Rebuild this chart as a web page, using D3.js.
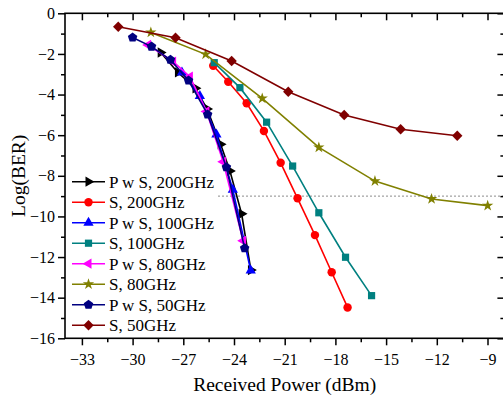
<!DOCTYPE html>
<html><head><meta charset="utf-8">
<script src="https://cdn.jsdelivr.net/npm/d3@7"></script>
<style>body{margin:0;background:#fff}svg{display:block}
svg text{font-family:"Liberation Serif","Times New Roman",Times,"DejaVu Serif",serif !important;fill:#000}</style>
</head><body>
<svg id="c" width="503" height="399"></svg>
<script>
// ---- data ----
const seriesNames = ["P w S, 200GHz","S, 200GHz","P w S, 100GHz","S, 100GHz","P w S, 80GHz","S, 80GHz","P w S, 50GHz","S, 50GHz"];
const pws200X = [-28.34,-27.32,-26.28,-25.59,-24.79,-24.24,-23.55,-23.0];
const pws200Y = [-1.93,-2.91,-3.69,-4.71,-6.45,-7.76,-9.87,-12.64];
const s200X = [-25.23,-24.34,-23.25,-22.23,-21.24,-20.24,-19.21,-18.22,-17.28];
const s200Y = [-2.58,-3.37,-4.43,-5.79,-7.36,-9.11,-10.92,-12.75,-14.48];
const pws100X = [-27.08,-26.02,-25.04,-24.07,-23.01];
const pws100Y = [-2.91,-4.07,-5.97,-8.69,-12.66];
const s100X = [-25.17,-23.65,-22.07,-20.53,-18.98,-17.40,-15.86];
const s100Y = [-2.43,-3.66,-5.36,-7.52,-9.82,-12.01,-13.90];
const pws80X = [-29.08,-27.60,-26.61,-25.63,-24.64,-23.46];
const pws80Y = [-1.56,-2.38,-3.12,-4.83,-7.31,-11.20];
const s80X = [-28.92,-25.68,-22.33,-18.98,-15.66,-12.31,-8.99];
const s80Y = [-0.94,-2.02,-4.19,-6.60,-8.26,-9.14,-9.47];
const pws50X = [-30.0,-28.88,-27.76,-26.69,-25.56,-24.45,-23.37];
const pws50Y = [-1.19,-1.64,-2.29,-3.31,-4.98,-7.58,-11.57];
const s50X = [-30.85,-27.46,-24.14,-20.79,-17.48,-14.14,-10.79];
const s50Y = [-0.66,-1.20,-2.35,-3.86,-5.01,-5.71,-6.03];
const xTicks = [-33,-30,-27,-24,-21,-18,-15,-12,-9];
const yTicks = [0,-2,-4,-6,-8,-10,-12,-14,-16];
const thresholdY = -9;

const colors = ["#000000","#ff0000","#0000ff","#008080","#ff00ff","#808000","#000080","#800000"];
const shapes = ["tri-right","circle","tri-up","square","tri-left","star","pentagon","diamond"];
const xs = [pws200X,s200X,pws100X,s100X,pws80X,s80X,pws50X,s50X];
const ys = [pws200Y,s200Y,pws100Y,s100Y,pws80Y,s80Y,pws50Y,s50Y];

// ---- layout ----
const L = 65, R = 504.4, T = 13.3, B = 338.3;
const FONT = "'Liberation Serif','Times New Roman',Times,'DejaVu Serif',serif";
const svg = d3.select("#c");
const x = d3.scaleLinear().domain([-34,-8]).range([L,R]);
const y = d3.scaleLinear().domain([-16,0]).range([B,T]);

function markerPath(shape){
  if(shape==="circle") return d3.symbol(d3.symbolCircle,56)();
  if(shape==="square") return d3.symbol(d3.symbolSquare,52)();
  if(shape==="diamond") return "M0,-5.2L5.2,0L0,5.2L-5.2,0Z";
  if(shape==="star") return d3.symbol(d3.symbolStar,40)();
  if(shape.startsWith("tri")) return d3.symbol(d3.symbolTriangle,46)();
  if(shape==="pentagon"){
    const r=5, pts=[];
    for(let i=0;i<5;i++){const a=-Math.PI/2+i*2*Math.PI/5;pts.push([r*Math.cos(a),r*Math.sin(a)]);}
    return "M"+pts.map(p=>p.join(",")).join("L")+"Z";
  }
}
function markerRot(shape){ return shape==="tri-right"?90:shape==="tri-left"?-90:0; }

// threshold dotted line
svg.append("line").attr("x1",218).attr("x2",R).attr("y1",y(thresholdY)).attr("y2",y(thresholdY))
  .attr("stroke","#8c8c8c").attr("stroke-width",1).attr("stroke-dasharray","2,2");

// axes
const minorXs = d3.range(-31.5,-8,3);
const minorYs = d3.range(-15,0,2);
const gB = svg.append("g").attr("transform",`translate(0,${B})`)
  .call(d3.axisBottom(x).tickValues(xTicks).tickSize(7).tickPadding(5).tickFormat(d3.format("d")));
const gBm = svg.append("g").attr("transform",`translate(0,${B})`)
  .call(d3.axisBottom(x).tickValues(minorXs).tickSize(4).tickFormat(""));
const gT = svg.append("g").attr("transform",`translate(0,${T})`)
  .call(d3.axisBottom(x).tickValues(xTicks).tickSize(7).tickFormat(""));
const gTm = svg.append("g").attr("transform",`translate(0,${T})`)
  .call(d3.axisBottom(x).tickValues(minorXs).tickSize(4).tickFormat(""));
const gL = svg.append("g").attr("transform",`translate(${L},0)`)
  .call(d3.axisLeft(y).tickValues(yTicks).tickSize(7).tickPadding(3).tickFormat(d3.format("d")));
const gLm = svg.append("g").attr("transform",`translate(${L},0)`)
  .call(d3.axisLeft(y).tickValues(minorYs).tickSize(4).tickFormat(""));
const gR = svg.append("g").attr("transform",`translate(${R},0)`)
  .call(d3.axisLeft(y).tickValues(yTicks).tickSize(7).tickFormat(""));
const gRm = svg.append("g").attr("transform",`translate(${R},0)`)
  .call(d3.axisLeft(y).tickValues(minorYs).tickSize(4).tickFormat(""));
[gB,gBm,gT,gTm,gL,gLm,gR,gRm].forEach(g=>{
  g.attr("font-family",FONT);
  g.selectAll(".domain").remove();
  g.selectAll(".tick line").attr("stroke","#000").attr("stroke-width",1.5);
  g.selectAll("text").attr("font-size",16).style("font-family",FONT);
});
gB.selectAll("text").attr("dy","0.95em");
// frame
svg.append("rect").attr("x",L).attr("y",T).attr("width",R-L).attr("height",B-T)
  .attr("fill","none").attr("stroke","#000").attr("stroke-width",1.6);

// series
const line = d3.line().x(d=>x(d[0])).y(d=>y(d[1]));
seriesNames.forEach((name,i)=>{
  const pts = xs[i].map((v,j)=>[v,ys[i][j]]);
  const g = svg.append("g");
  g.append("path").attr("d",line(pts)).attr("fill","none").attr("stroke",colors[i]).attr("stroke-width",1.6);
  g.selectAll("path.m").data(pts).join("path").attr("class","m")
    .attr("d",markerPath(shapes[i]))
    .attr("transform",d=>`translate(${x(d[0])},${y(d[1])}) rotate(${markerRot(shapes[i])})`)
    .attr("fill",colors[i]);
});

// legend
const lg = svg.append("g");
seriesNames.forEach((name,i)=>{
  const yy = 181.7 + i*20.5;
  lg.append("line").attr("x1",72).attr("x2",105).attr("y1",yy).attr("y2",yy)
    .attr("stroke",colors[i]).attr("stroke-width",1.6);
  lg.append("path").attr("d",markerPath(shapes[i]))
    .attr("transform",`translate(88.5,${yy}) rotate(${markerRot(shapes[i])})`).attr("fill",colors[i]);
  lg.append("text").attr("x",109).attr("y",yy).attr("dy","0.35em").attr("font-size",17)
    .style("font-family",FONT).text(name);
});

// axis titles
svg.append("text").attr("x",(L+R)/2).attr("y",391).attr("text-anchor","middle").attr("font-size",19.5)
  .style("font-family",FONT).text("Received Power (dBm)");
svg.append("text").attr("transform",`translate(25,${(T+B)/2}) rotate(-90)`).attr("text-anchor","middle")
  .attr("font-size",19.5).style("font-family",FONT).text("Log(BER)");
</script>
</body></html>
